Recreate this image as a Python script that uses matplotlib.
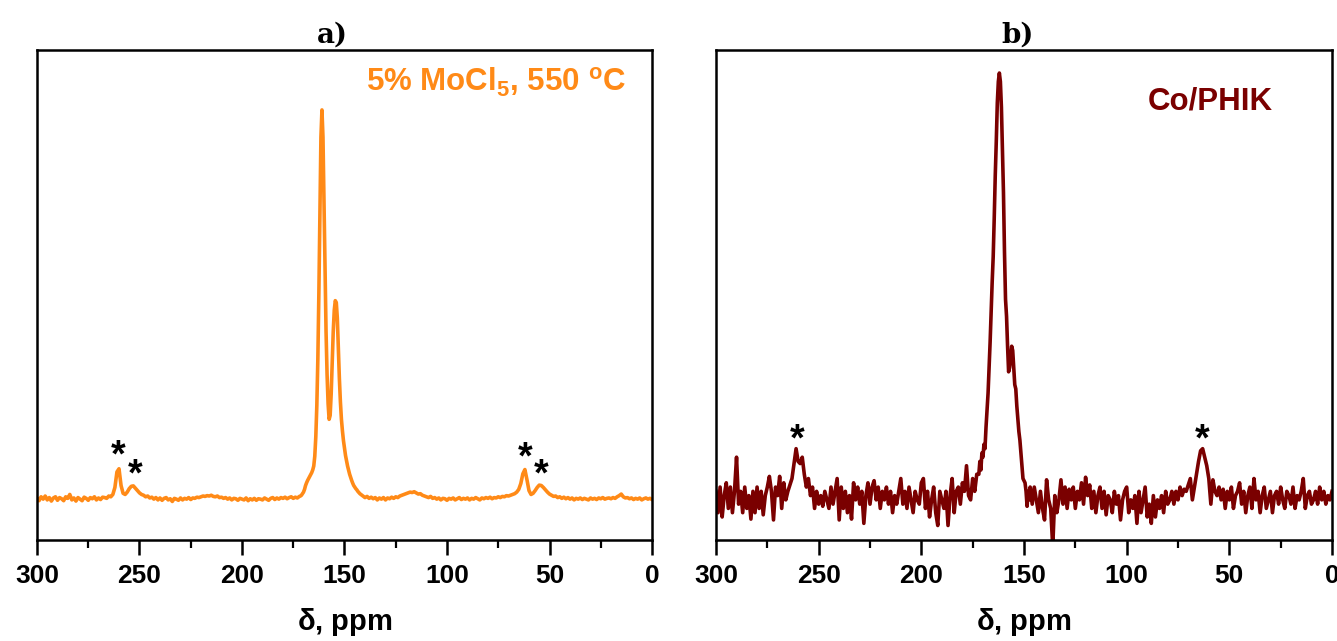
import numpy as np
import matplotlib
matplotlib.use("Agg")
import matplotlib.pyplot as plt
from matplotlib.ticker import MultipleLocator


# Bold Arial-like look for everything, bold mathtext for the sub/superscripts
plt.rcParams["font.family"] = ["Liberation Sans", "DejaVu Sans"]
plt.rcParams["font.weight"] = "bold"
plt.rcParams["mathtext.fontset"] = "custom"
plt.rcParams["mathtext.rm"] = "Liberation Sans:bold"
plt.rcParams["mathtext.it"] = "Liberation Sans:bold"
plt.rcParams["mathtext.bf"] = "Liberation Sans:bold"

# ---------------- panel a) 5% MoCl5, 550 C ----------------
# baseline 300 -> 172 ppm, 1 ppm steps
a_ppm_left = np.arange(300, 171, -1)
a_int_left = [
    0.002, -0.004, 0.006, 0.000, 0.008, -0.002, 0.004, -0.005, 0.003, 0.006,
    -0.003, 0.004, 0.001, -0.004, 0.006, 0.002, 0.012, -0.002, 0.003, -0.005,
    0.004, 0.000, -0.004, 0.005, 0.002, -0.003, 0.004, 0.001, 0.006, -0.002,
    0.003, -0.001, 0.005, 0.004, 0.002, 0.008, 0.006, 0.012, 0.030, 0.070,
    0.078, 0.035, 0.015, 0.012, 0.018, 0.027, 0.033, 0.034, 0.028, 0.022,
    0.016, 0.012, 0.010, 0.006, 0.008, 0.003, 0.005, 0.000, 0.004, -0.002,
    0.003, -0.003, 0.002, 0.004, -0.002, 0.001, -0.006, 0.002, 0.000, -0.003,
    0.003, -0.002, 0.002, 0.000, 0.004, -0.001, 0.003, 0.002, 0.005, 0.004,
    0.006, 0.008, 0.007, 0.009, 0.008, 0.010, 0.007, 0.006, 0.008, 0.004,
    0.005, 0.002, 0.004, 0.000, 0.003, -0.002, 0.002, 0.001, -0.003, 0.002,
    0.000, -0.002, 0.003, -0.004, 0.001, -0.002, 0.002, -0.003, 0.001, 0.000,
    -0.002, 0.003, 0.000, -0.003, 0.002, 0.004, -0.001, 0.003, 0.000, 0.004,
    0.002, 0.005, 0.001, 0.004, 0.006, 0.002, 0.005, 0.003, 0.007,
]
# main signal 171.5 -> 140.5 ppm, 0.5 ppm steps
a_ppm_peak = np.arange(171.5, 140.4, -0.5)
a_int_peak = [
    0.008, 0.010, 0.014, 0.018, 0.025, 0.035, 0.042, 0.048, 0.053, 0.058,
    0.063, 0.068, 0.075, 0.085, 0.110, 0.160, 0.240, 0.360, 0.530, 0.740,
    0.930, 1.000, 0.930, 0.760, 0.580, 0.430, 0.320, 0.245, 0.205, 0.215,
    0.270, 0.350, 0.430, 0.485, 0.510, 0.505, 0.465, 0.390, 0.310, 0.250,
    0.205, 0.175, 0.150, 0.130, 0.112, 0.098, 0.085, 0.074, 0.064, 0.056,
    0.048, 0.041, 0.035, 0.031, 0.027, 0.024, 0.020, 0.017, 0.014, 0.012,
    0.010, 0.008, 0.006,
]
# baseline 140 -> 0 ppm, 1 ppm steps
a_ppm_right = np.arange(140, -1, -1)
a_int_right = [
    0.004, 0.007, 0.002, 0.005, 0.001, 0.004, -0.002, 0.003, 0.000, 0.004,
    -0.002, 0.003, 0.001, 0.005, 0.002, 0.006, 0.004, 0.008, 0.010, 0.012,
    0.014, 0.016, 0.018, 0.017, 0.019, 0.016, 0.013, 0.014, 0.010, 0.008,
    0.006, 0.004, 0.007, 0.002, 0.004, 0.000, 0.003, -0.002, 0.002, 0.001,
    -0.003, 0.002, 0.000, 0.003, -0.002, 0.001, 0.004, -0.001, 0.002, 0.000,
    0.003, -0.002, 0.002, 0.000, 0.004, 0.001, -0.002, 0.003, 0.001, 0.004,
    0.002, 0.005, 0.001, 0.004, 0.003, 0.006, 0.004, 0.007, 0.006, 0.009,
    0.008, 0.010, 0.012, 0.014, 0.018, 0.025, 0.040, 0.065, 0.076, 0.050,
    0.022, 0.012, 0.015, 0.022, 0.030, 0.036, 0.035, 0.030, 0.024, 0.018,
    0.013, 0.010, 0.007, 0.008, 0.004, 0.006, 0.002, 0.005, 0.001, 0.004,
    0.000, 0.003, -0.002, 0.002, 0.000, 0.003, -0.001, 0.002, 0.000, -0.002,
    0.003, 0.000, 0.002, -0.001, 0.003, 0.001, 0.004, 0.000, 0.002, 0.003,
    0.001, 0.004, 0.002, 0.006, 0.009, 0.013, 0.006, 0.003, 0.004, 0.001,
    0.003, -0.001, 0.002, 0.000, 0.003, -0.002, 0.001, 0.003, 0.000, 0.002,
    -0.001,
]

# ---------------- panel b) Co/PHIK ----------------
b_ppm_left = np.arange(300, 172, -1)
b_int_left = [
    0.02, -0.03, 0.03, -0.04, 0.01, 0.04, -0.02, 0.03, -0.03, 0.02,
    0.10, -0.01, 0.02, -0.03, 0.03, -0.02, 0.01, -0.045, 0.02, -0.03,
    0.03, -0.02, 0.02, -0.035, 0.01, 0.03, 0.055, 0.02, -0.047, 0.03,
    0.01, 0.055, -0.02, 0.04, 0.00, 0.02, 0.035, 0.05, 0.085, 0.12,
    0.09, 0.085, 0.10, 0.06, 0.03, 0.05, 0.01, 0.03, -0.02, 0.02,
    -0.01, 0.01, -0.015, 0.02, 0.00, -0.02, 0.03, -0.01, 0.02, 0.05,
    -0.047, 0.03, -0.02, 0.02, -0.03, 0.01, -0.045, 0.04, 0.00, 0.03,
    -0.01, 0.02, -0.055, 0.01, 0.04, -0.01, 0.03, 0.045, 0.00, 0.03,
    -0.02, 0.02, 0.00, 0.03, -0.01, 0.02, -0.03, 0.01, -0.01, 0.02,
    0.05, -0.01, 0.02, -0.02, 0.03, 0.00, -0.03, 0.02, 0.00, -0.01,
    0.04, 0.05, -0.02, 0.02, -0.04, 0.00, 0.03, -0.03, -0.06, 0.02,
    0.00, -0.02, 0.02, -0.06, 0.01, 0.05, -0.03, 0.02, 0.03, -0.01,
    0.04, 0.02, 0.08, 0.01, 0.00, 0.05, 0.02, 0.06,
]
b_ppm_peak = np.arange(172, 146.9, -0.5)
b_int_peak = [
    0.06, 0.09, 0.07, 0.11, 0.10, 0.13, 0.12, 0.17, 0.21, 0.25,
    0.31, 0.37, 0.44, 0.51, 0.57, 0.66, 0.76, 0.84, 0.93, 0.98,
    1.00, 0.98, 0.92, 0.82, 0.72, 0.58, 0.47, 0.43, 0.36, 0.30,
    0.31, 0.33, 0.36, 0.35, 0.31, 0.27, 0.26, 0.22, 0.19, 0.16,
    0.14, 0.11, 0.08, 0.05, 0.045, 0.04, 0.02, -0.015, 0.02, 0.00,
    0.03,
]
b_ppm_right = np.arange(146, -1, -1)
b_int_right = [
    -0.01, 0.03, 0.00, -0.03, 0.02, -0.02, -0.047, 0.047, 0.00, -0.02,
    -0.11, 0.01, -0.03, 0.00, 0.047, -0.01, 0.03, -0.02, 0.025, 0.00,
    0.03, -0.02, 0.02, 0.00, 0.04, -0.01, 0.053, 0.01, 0.035, -0.02,
    0.02, -0.03, 0.01, 0.03, -0.02, 0.02, -0.035, 0.01, 0.00, -0.03,
    0.02, -0.01, 0.01, -0.047, 0.00, 0.02, 0.03, -0.03, 0.00, -0.02,
    0.01, -0.055, 0.02, -0.03, 0.00, 0.03, -0.04, -0.01, -0.055, 0.01,
    -0.04, 0.00, -0.02, 0.01, -0.03, 0.02, -0.01, 0.00, 0.02, -0.01,
    0.02, 0.00, 0.03, 0.01, 0.025, 0.02, 0.035, 0.05, 0.00, 0.03,
    0.06, 0.09, 0.115, 0.12, 0.10, 0.08, 0.05, -0.01, 0.047, 0.02,
    0.01, 0.03, 0.00, 0.025, -0.02, 0.02, 0.00, 0.03, -0.02, 0.01,
    0.02, 0.04, -0.01, 0.02, -0.03, 0.01, 0.03, -0.02, 0.05, 0.00,
    0.02, -0.03, 0.01, 0.03, -0.02, 0.00, 0.02, -0.03, 0.01, 0.02,
    -0.01, 0.03, 0.00, -0.02, 0.02, 0.01, -0.01, 0.03, -0.02, 0.01,
    0.00, 0.02, 0.05, -0.02, 0.01, 0.02, -0.01, 0.00, 0.02, -0.01,
    0.03, 0.00, 0.02, -0.01, 0.01, 0.00, 0.02,
]

# spinning sideband markers (ppm, height)
a_stars = [(260.3, 0.110), (252.3, 0.060), (62.0, 0.105), (54.1, 0.060)]
b_stars = [(260.6, 0.138), (63.3, 0.138)]

a_ppm = np.concatenate([a_ppm_left, a_ppm_peak, a_ppm_right])
a_int = np.concatenate([a_int_left, a_int_peak, a_int_right])
b_ppm = np.concatenate([b_ppm_left, b_ppm_peak, b_ppm_right])
b_int = np.concatenate([b_int_left, b_int_peak, b_int_right])

W, H = 1337, 641
fig = plt.figure(figsize=(W / 100, H / 100), dpi=100)
ax_a = fig.add_axes([37 / W, 101 / H, 615 / W, 490 / H])
ax_b = fig.add_axes([716 / W, 101 / H, 616 / W, 490 / H])

panels = [
    (ax_a, a_ppm, a_int, "#FF8A17", "a)", 0.48, r"5% MoCl$_5$, 550 $^{\rm o}$C",
     (0.958, 0.914), a_stars, (-0.105, 1.154)),
    (ax_b, b_ppm, b_int, "#7A0000", "b)", 0.49, "Co/PHIK",
     (0.904, 0.878), b_stars, (-0.094, 1.054)),
]

for ax, x, y, color, title, title_x, label, label_pos, stars, ylim in panels:
    ax.plot(x, y, color=color, linewidth=2.6, solid_joinstyle="round")
    ax.set_xlim(300, 0)
    ax.set_ylim(*ylim)
    ax.set_yticks([])
    ax.xaxis.set_major_locator(MultipleLocator(50))
    ax.xaxis.set_minor_locator(MultipleLocator(25))
    ax.tick_params(axis="x", which="major", direction="out", length=11, width=1.8,
                   labelsize=19, pad=6)
    ax.tick_params(axis="x", which="minor", direction="out", length=6, width=1.6)
    for lbl in ax.get_xticklabels():
        lbl.set_fontweight("bold")
    for sp in ax.spines.values():
        sp.set_linewidth(1.8)
    ax.set_xlabel(r"$\delta$, ppm", fontsize=21, fontweight="bold", labelpad=13)
    ax.set_title(title, x=title_x, fontsize=20, fontweight="bold", family="DejaVu Serif", pad=5)
    ax.text(label_pos[0], label_pos[1], label, transform=ax.transAxes, color=color,
            fontsize=22.5, fontweight="bold", ha="right", va="baseline")
    for sx, sy in stars:
        ax.text(sx, sy, "*", fontsize=27, fontweight="bold", ha="center", va="center",
                color="black")

fig.savefig("out.png", dpi=100)
